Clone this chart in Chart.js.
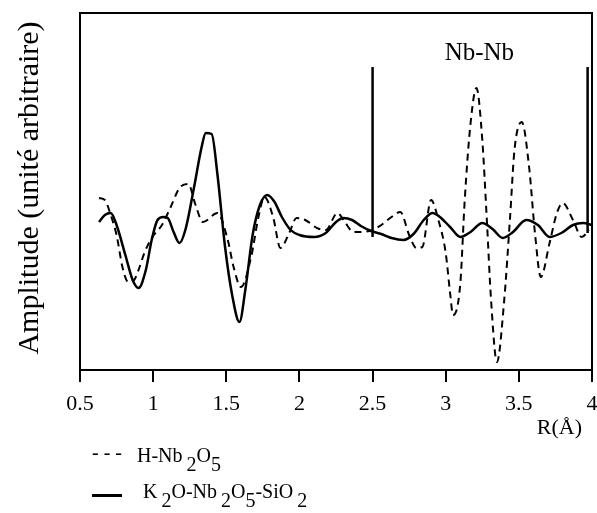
<!DOCTYPE html>
<html>
<head>
<meta charset="utf-8">
<script src="https://cdn.jsdelivr.net/npm/chart.js@4/dist/chart.umd.min.js"></script>
<style>
  body { margin: 0; background: #fff; }
  #wrap { position: relative; width: 597px; height: 513px; }
  .leg { position: absolute; font-family: "Liberation Serif", serif; font-size: 20px; color: #000; line-height: 23px; white-space: nowrap; }
  .leg .s { position: relative; top: 9px; margin-left: 4px; }
  .swatch { position: absolute; background: #000; }
</style>
</head>
<body>
<div id="wrap">
  <canvas id="chart" width="597" height="513"></canvas>
  <div class="leg" style="left:92px; top:441px;">- - -</div>
  <div class="leg" style="left:137px; top:444px;">H-Nb<span class="s">2</span>O<span class="s" style="margin-left:0">5</span></div>
  <div class="swatch" style="left:92px; top:494px; width:30px; height:3px;"></div>
  <div class="leg" style="left:143px; top:480px;">K<span class="s">2</span>O-Nb<span class="s">2</span>O<span class="s" style="margin-left:0">5</span>-SiO<span class="s">2</span></div>
</div>
<script>
// ===== DATA =====
const xTicks = [0.5, 1, 1.5, 2, 2.5, 3, 3.5, 4];

// H-Nb2O5 (pointillés)
const hR = [0.63, 0.67, 0.71, 0.75, 0.79, 0.83, 0.87, 0.9, 0.94, 0.99, 1.06, 1.12, 1.18, 1.24, 1.29, 1.34, 1.44, 1.51, 1.55, 1.6, 1.67, 1.72, 1.76, 1.82, 1.87, 1.93, 1.98, 2.04, 2.12, 2.18, 2.26, 2.31, 2.37, 2.48, 2.56, 2.62, 2.69, 2.75, 2.8, 2.84, 2.9, 2.95, 3.0, 3.03, 3.05, 3.1, 3.13, 3.17, 3.21, 3.25, 3.28, 3.31, 3.35, 3.4, 3.44, 3.47, 3.52, 3.57, 3.61, 3.65, 3.71, 3.76, 3.8, 3.87, 3.93, 3.98];
const hAmp = [172, 170, 155, 135, 103, 88, 90, 100, 117, 132, 145, 163, 182, 186, 165, 148, 157, 130, 103, 83, 113, 153, 173, 153, 122, 137, 152, 150, 142, 140, 157, 148, 138, 139, 145, 152, 158, 135, 122, 123, 170, 150, 117, 77, 55, 87, 170, 247, 282, 230, 153, 70, 8, 70, 153, 220, 248, 203, 137, 93, 127, 157, 167, 150, 133, 140];

// K2O-Nb2O5-SiO2 (trait plein)
const kR = [0.63, 0.67, 0.71, 0.75, 0.81, 0.86, 0.9, 0.95, 0.99, 1.03, 1.07, 1.1, 1.14, 1.18, 1.22, 1.28, 1.33, 1.36, 1.4, 1.44, 1.49, 1.54, 1.59, 1.63, 1.68, 1.73, 1.78, 1.83, 1.88, 1.94, 2.0, 2.1, 2.18, 2.25, 2.3, 2.36, 2.42, 2.49, 2.56, 2.63, 2.71, 2.78, 2.85, 2.91, 2.96, 3.03, 3.1, 3.17, 3.25, 3.32, 3.39, 3.46, 3.55, 3.63, 3.71, 3.79, 3.87, 3.94, 4.0];
const kAmp = [148, 155, 157, 145, 115, 90, 82, 100, 130, 150, 153, 152, 138, 127, 140, 183, 222, 237, 236, 195, 125, 75, 48, 80, 135, 165, 175, 168, 153, 140, 135, 133, 137, 148, 152, 150, 144, 139, 136, 132, 130, 136, 150, 157, 153, 143, 133, 138, 147, 141, 132, 138, 150, 145, 133, 137, 145, 147, 145];

// barres Nb-Nb
const markerR = [2.5, 3.97];
const markerTop = [303, 303];
const markerBottom = [133, 137];

const serif = '"Liberation Serif", serif';

// ===== TEXTES + CADRE =====
const extras = {
  id: 'extras',
  afterDraw(chart) {
    const { ctx, chartArea: a, scales } = chart;
    ctx.save();
    ctx.strokeStyle = '#000';
    ctx.lineWidth = 2;
    ctx.strokeRect(a.left, a.top, a.right - a.left, a.bottom - a.top);

    ctx.fillStyle = '#000';
    ctx.textAlign = 'center';
    ctx.textBaseline = 'middle';
    ctx.font = '25px ' + serif;
    ctx.fillText('Nb-Nb', scales.x.getPixelForValue(3.23), 53);

    ctx.font = '22px ' + serif;
    ctx.textAlign = 'right';
    ctx.fillText('R(Å)', 582, 428);

    ctx.translate(30, 188);
    ctx.rotate(-Math.PI / 2);
    ctx.textAlign = 'center';
    ctx.font = '30px ' + serif;
    ctx.fillText('Amplitude (unité arbitraire)', 0, 0);
    ctx.restore();
  }
};

const toPts = (xs, ys) => xs.map((x, i) => ({ x, y: ys[i] }));

const markerSets = markerR.map((r, i) => ({
  data: [{ x: r, y: markerTop[i] }, { x: r, y: markerBottom[i] }],
  borderColor: '#000',
  borderWidth: 2.5,
  pointRadius: 0
}));

new Chart(document.getElementById('chart'), {
  type: 'line',
  data: {
    datasets: [
      {
        label: 'H-Nb2O5',
        data: toPts(hR, hAmp),
        borderColor: '#000',
        borderWidth: 2,
        borderDash: [7, 5],
        pointRadius: 0,
        cubicInterpolationMode: 'monotone'
      },
      {
        label: 'K2O-Nb2O5-SiO2',
        data: toPts(kR, kAmp),
        borderColor: '#000',
        borderWidth: 2.5,
        pointRadius: 0,
        cubicInterpolationMode: 'monotone'
      },
      ...markerSets
    ]
  },
  options: {
    responsive: false,
    animation: false,
    devicePixelRatio: 1,
    layout: { padding: { left: 80, right: 5, top: 13, bottom: 0 } },
    plugins: { legend: { display: false }, tooltip: { enabled: false } },
    scales: {
      x: {
        type: 'linear',
        min: 0.5,
        max: 4,
        afterBuildTicks: s => { s.ticks = xTicks.map(v => ({ value: v })); },
        afterFit: s => { s.height = 143; s.paddingLeft = 0; s.paddingRight = 0; },
        ticks: { color: '#000', font: { family: serif, size: 22 }, padding: 9, maxRotation: 0, callback: v => String(v) },
        grid: { drawOnChartArea: false, color: '#000', lineWidth: 2, tickLength: 12 },
        border: { display: true, color: '#000', width: 2 }
      },
      y: {
        display: false,
        min: 0,
        max: 357
      }
    }
  },
  plugins: [extras]
});
</script>
</body>
</html>
